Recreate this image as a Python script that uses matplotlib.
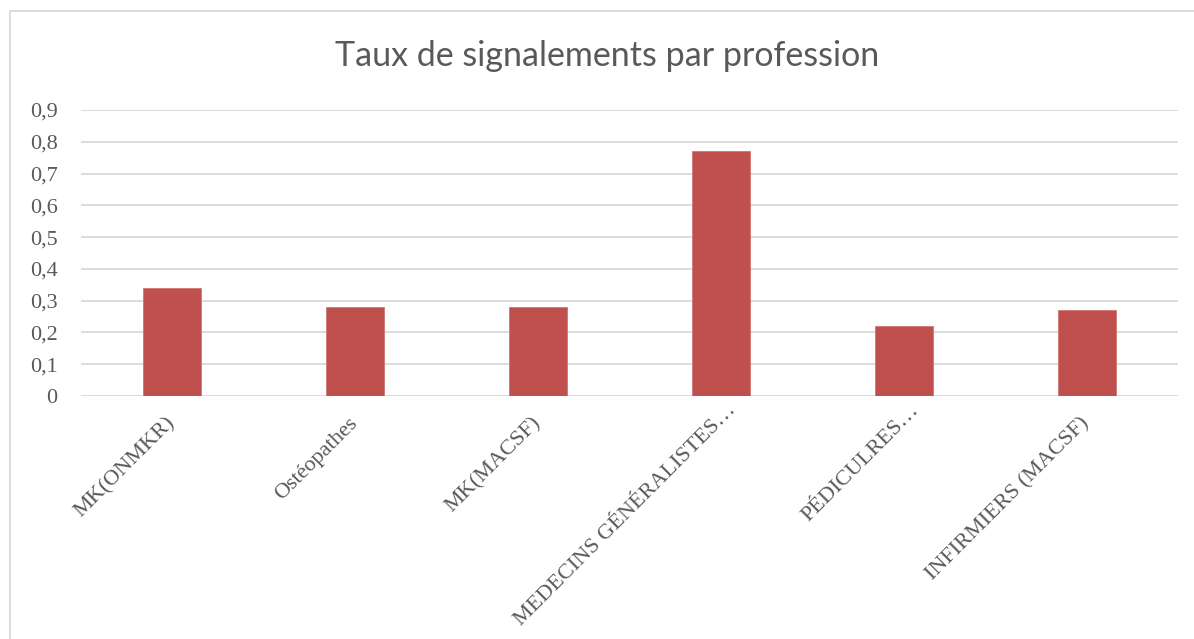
"""plot.py: bar chart of reporting rate by profession."""

import matplotlib
matplotlib.use('Agg')
import matplotlib.pyplot as plt
import matplotlib.transforms as mtransforms
from matplotlib.patches import Rectangle
from matplotlib.ticker import FuncFormatter

professions = ['MK(ONMKR)', 'Ostéopathes', 'MK(MACSF)', 'MEDECINS GÉNÉRALISTES…',
               'PÉDICULRES…', 'INFIRMIERS (MACSF)']
taux = [0.34, 0.28, 0.28, 0.77, 0.22, 0.27]
y_ticks = [0, 0.1, 0.2, 0.3, 0.4, 0.5, 0.6, 0.7, 0.8, 0.9]

fig = plt.figure(figsize=(11.94, 6.39), dpi=100)
ax = fig.add_axes([81 / 1194, 1 - 396 / 639, (1178 - 81) / 1194, (396 - 110) / 639])

# light frame around the chart (cropped at right and bottom)
fig.patches.append(Rectangle((10 / 1194, -0.1), 1.2, 1.1 - 11 / 639, transform=fig.transFigure,
                             fill=False, edgecolor='#D9D9D9', linewidth=1.3))

x = range(len(professions))
ax.bar(x, taux, width=0.317, color='#C0504D', edgecolor='#D07572', linewidth=0.6, zorder=3)

ax.set_xlim(-0.5, len(professions) - 0.5)
ax.set_ylim(0, 0.9)
ax.set_yticks(y_ticks)
ax.yaxis.set_major_formatter(FuncFormatter(lambda v, p: ('%g' % round(v, 1)).replace('.', ',')))
ax.grid(axis='y', color='#D9D9D9', linewidth=1.3, zorder=0)
for s in ax.spines.values():
    s.set_visible(False)
ax.tick_params(length=0)
ax.tick_params(axis='y', pad=17)

ax.set_xticks(list(x))
ax.set_xticklabels(professions, rotation=45, ha='right', va='top', rotation_mode='anchor')
ax.tick_params(axis='x', pad=15.5)
for lbl in ax.get_xticklabels():
    lbl.set_fontsize(16)
    # truncated labels sit further up along the text direction
    if lbl.get_text().endswith('…'):
        dx, dy = 6, 17
    else:
        dx, dy = -7, 4
    lbl.set_transform(lbl.get_transform() +
                      mtransforms.ScaledTranslation(dx / 100, dy / 100, fig.dpi_scale_trans))
for lbl in ax.get_yticklabels():
    lbl.set_fontsize(16)
for lbl in ax.get_xticklabels() + ax.get_yticklabels():
    lbl.set_fontfamily('Liberation Serif')
    lbl.set_color('#595959')

fig.text(0.5 * (333 + 882) / 1194, 1 - 56 / 639, 'Taux de signalements par profession',
         ha='center', va='center', fontsize=24.5, color='#595959', family='Lato')

plt.savefig('out.png', dpi=100)
